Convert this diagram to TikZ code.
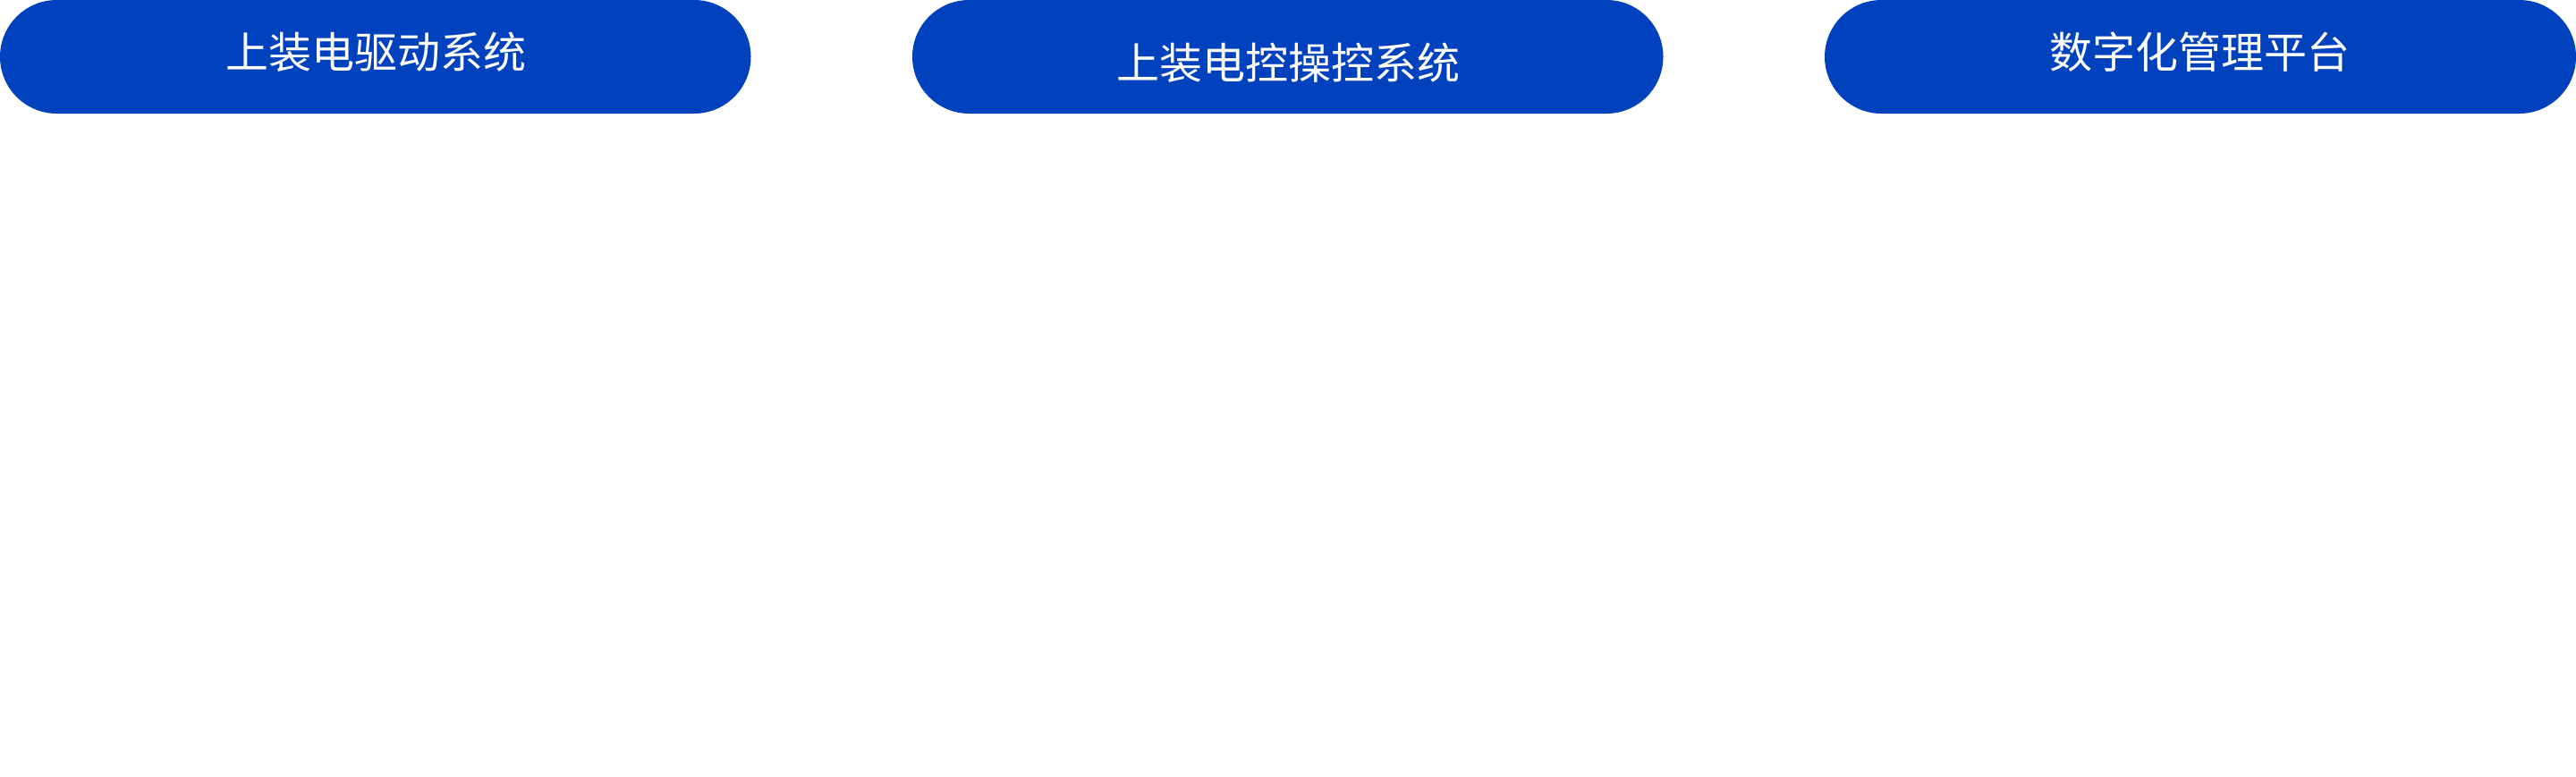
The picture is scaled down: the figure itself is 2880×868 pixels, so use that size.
\documentclass[tikz,border=0pt]{standalone}
\usepackage{fontspec}
\newfontfamily\cjk{Noto Sans CJK SC}
\definecolor{pillblue}{RGB}{0,65,190}
\tikzset{
  pill/.style={fill=pillblue, draw=none, rounded corners=63.5pt},
  pilltext/.style={text=white, font=\cjk\fontsize{48}{48}\selectfont, inner sep=0pt, anchor=center}
}
\begin{document}
\begin{tikzpicture}[x=1pt,y=-1pt]
\useasboundingbox[fill=white] (0,0) rectangle (2880,868);
\fill[pill] (0,0) rectangle (839.5,127) coordinate (p1end);
\fill[pill] (1020,0) rectangle (1859.5,127);
\fill[pill] (2040,0) rectangle (2880,127);
\node[pilltext] (t1) at (420,58) {上装电驱动系统};
\node[pilltext] (t2) at (1440,70) {上装电控操控系统};
\node[pilltext] (t3) at (2459,58) {数字化管理平台};
\end{tikzpicture}
\end{document}
